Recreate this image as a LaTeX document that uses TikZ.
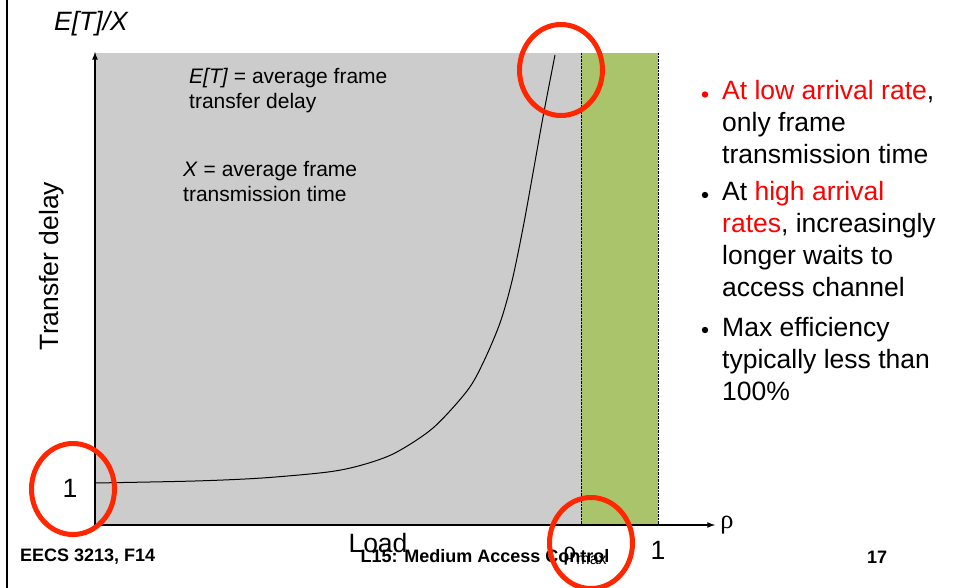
\documentclass[tikz,border=0pt]{standalone}
\usepackage{fontspec}
\setmainfont{Liberation Sans}
\newfontfamily\rhofont{Liberation Serif}
\usetikzlibrary{positioning}
\definecolor{plotgray}{RGB}{204,204,204}
\definecolor{maxgreen}{RGB}{169,196,107}
\definecolor{ringred}{RGB}{255,38,0}
\definecolor{hired}{RGB}{255,0,0}

\begin{document}
\begin{tikzpicture}[x=1pt,y=-1pt,
  bigtext/.style={font=\fontsize{26.5}{32}\selectfont, inner sep=0pt},
  notetext/.style={font=\fontsize{21}{25.5}\selectfont, inner sep=0pt, align=left, anchor=north west},
  foottext/.style={font=\fontsize{18}{22}\selectfont\bfseries, inner sep=0pt},
  bullettext/.style={bigtext, align=left, anchor=north west},
  dot/.style={circle, inner sep=0pt, minimum size=6.4pt},
  ring/.style={draw=ringred, line width=5pt}]
 \useasboundingbox (0,0) rectangle (958,588);
 \draw[line width=1.5pt] (7,0) -- (7,588);
 % shaded regions
 \fill[plotgray] (95,53) rectangle (581,525);
 \fill[maxgreen] (581,53) rectangle (658,525);
 \draw[densely dotted, thin] (581,53) -- (581,525);
 \draw[densely dotted, thin] (658,53) -- (658,525);
 % axes
 \coordinate (orig) at (95,525);
 \coordinate (ytop) at (95,52);
 \coordinate (xend) at (715,525);
 \draw[line width=1.6pt, -latex] (orig) -- (ytop);
 \draw[line width=1.6pt, -latex] (orig) -- (xend);
 % delay curve
 \draw[line width=1pt] plot[smooth] coordinates {(95,483) (195,481) (262,478) (328,472) (362,465) (395,453) (433,428) (467,391) (483,363) (500,323) (512,281) (523,228) (533,173) (543,117) (555,55)};
 % labels
 \node[bigtext] (ylab) at (91,24) {\itshape E[T]/X};
 \node[bigtext, rotate=90] (ydesc) at (52,266) {Transfer delay};
 \node[bigtext] (one) at (70,488) {1};
 \node[bigtext] (load) at (378,543) {Load};
 \node[bigtext] (xone) at (658,550) {1};
 \node[bigtext] (rho) at (727,525) {\rhofont ρ};
 \node[bigtext, anchor=base west] (rhomax) at (563,559) {\rhofont ρ\raisebox{-5pt}{\normalfont\fontsize{16}{18}\selectfont max}};
 \node[notetext] (ETnote) at (189,68) {\textit{E[T]} = average frame\\transfer delay};
 \node[notetext] (Xnote) at (183,161) {\textit{X} = average frame\\transmission time};
 % bullets
 \node[dot, fill=hired] (dotA) at (705,94.5) {};
 \node[dot, fill=black] (dotB) at (705,195) {};
 \node[dot, fill=black] (dotC) at (705,330) {};
 \node[bullettext] (bulletA) at (722,80) {\textcolor{hired}{At low arrival rate},\\only frame\\transmission time};
 \node[bullettext] (bulletB) at (722,181) {At \textcolor{hired}{high arrival}\\\textcolor{hired}{rates}, increasingly\\longer waits to\\access channel};
 \node[bullettext] (bulletC) at (722,317) {Max efficiency\\typically less than\\100\%};
 % footer
 \node[foottext, anchor=west] (course) at (20,557) {EECS 3213, F14};
 \node[foottext] (lecture) at (485,556) {L15: Medium Access Control};
 \node[foottext] (page) at (877,557) {17};
 % highlight rings
 \draw[ring] (73,489) ellipse [x radius=41.5, y radius=45.5];
 \draw[ring] (561,70) ellipse [x radius=41.5, y radius=45.5];
 \draw[ring] (591,543) ellipse [x radius=41.5, y radius=45.5];
\end{tikzpicture}
\end{document}
